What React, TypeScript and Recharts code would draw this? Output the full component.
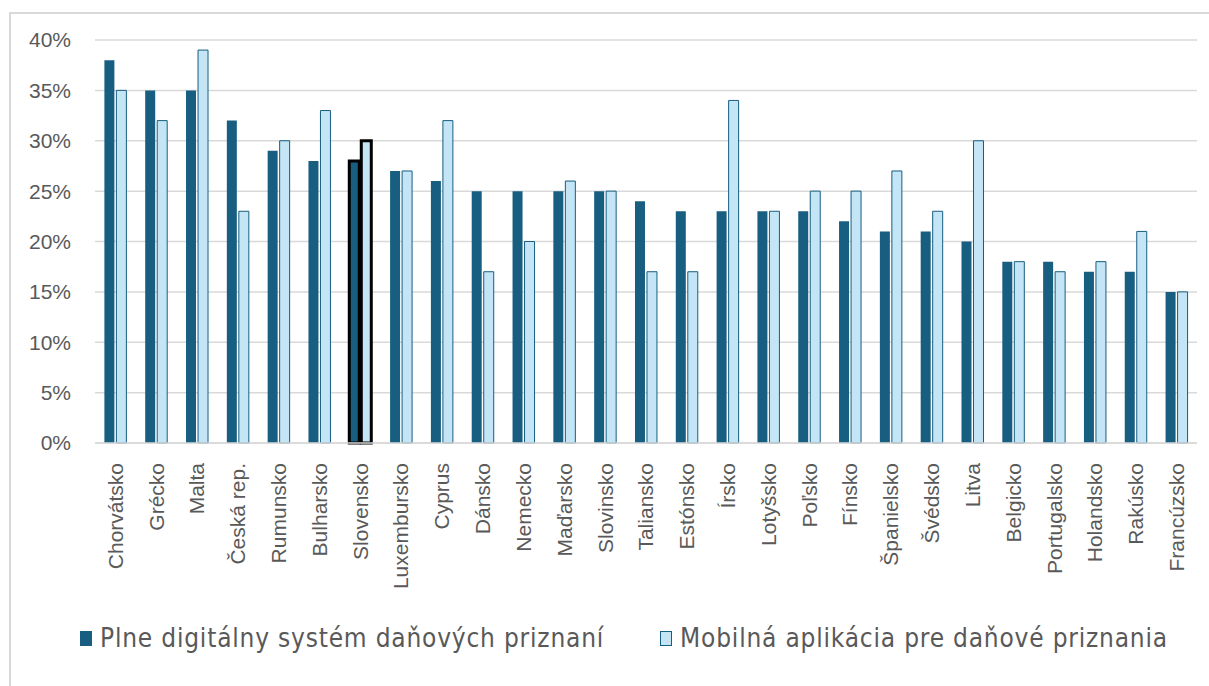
import { Bar, BarChart, CartesianGrid, Cell, Legend, XAxis, YAxis } from "recharts";

const countries = [
    "Chorvátsko", "Grécko", "Malta", "Česká rep.", "Rumunsko", "Bulharsko", "Slovensko", "Luxembursko", "Cyprus",
    "Dánsko", "Nemecko", "Maďarsko", "Slovinsko", "Taliansko", "Estónsko", "Írsko", "Lotyšsko", "Poľsko", "Fínsko",
    "Španielsko", "Švédsko", "Litva", "Belgicko", "Portugalsko", "Holandsko", "Rakúsko", "Francúzsko",
];
const digitalSystem = [38, 35, 35, 32, 29, 28, 28, 27, 26, 25, 25, 25, 25, 24, 23, 23, 23, 23, 22, 21, 21, 20, 18, 18, 17, 17, 15];
const mobileApp = [35, 32, 39, 23, 30, 33, 30, 27, 32, 17, 20, 26, 25, 17, 17, 34, 23, 25, 25, 27, 23, 30, 18, 17, 18, 21, 15];
const yTicks = [0, 5, 10, 15, 20, 25, 30, 35, 40];
const seriesNames = ["Plne digitálny systém daňových priznaní", "Mobilná aplikácia pre daňové priznania"];
const highlighted = "Slovensko";

const data = countries.map((name, i) => ({ name, digital: digitalSystem[i], mobile: mobileApp[i] }));

const DARK = "#175e80";
const LIGHT = "#c3e5f5";
const TEXT = "#595959";
const FONT = "'Liberation Sans', Arial, sans-serif";

const CountryTick = ({ x, y, payload }: any) => (
    <text
        x={0}
        y={0}
        transform={`translate(${x},${y + 12}) rotate(-90)`}
        textAnchor="end"
        dy="0.35em"
        fill={TEXT}
        fontSize={21}
        fontFamily={FONT}
    >
        {payload.value}
    </text>
);

const LegendContent = () => (
    <div
        style={{
            height: 70,
            width: 1209,
            display: "flex",
            alignItems: "flex-start",
            paddingTop: 8,
            paddingLeft: 80,
            boxSizing: "border-box",
            fontFamily: "'Liberation Sans Narrow', 'DejaVu Sans Condensed', sans-serif",
            fontSize: 26,
            letterSpacing: 0.8,
            color: TEXT,
            whiteSpace: "nowrap",
        }}
    >
        {seriesNames.map((label, i) => (
            <div key={label} style={{ display: "flex", alignItems: "center", marginRight: 56, flexShrink: 0 }}>
                <span
                    style={{
                        display: "inline-block",
                        width: 12,
                        height: 15,
                        background: i === 0 ? DARK : LIGHT,
                        border: i === 0 ? "none" : `1.5px solid ${DARK}`,
                        boxSizing: "border-box",
                        marginRight: 8,
                    }}
                />
                <span style={{ lineHeight: "28px" }}>{label}</span>
            </div>
        ))}
    </div>
);

export default function App() {
    return (
        <div style={{ position: "absolute", left: 0, top: 0, width: 1209, height: 686, overflow: "hidden", background: "#fff" }}>
            <div
                style={{
                    position: "absolute",
                    left: 9,
                    top: 12,
                    width: 1220,
                    height: 700,
                    border: "2px solid #d9d9d9",
                    boxSizing: "border-box",
                }}
            />
            <BarChart
                width={1209}
                height={686}
                data={data}
                margin={{ top: 40, right: 12, bottom: 0, left: 0 }}
                barCategoryGap="23%"
                barGap={2}
                style={{ position: "absolute", left: 0, top: 0 }}
            >
                <CartesianGrid vertical={false} stroke="#d9d9d9" strokeWidth={1.5} />
                <XAxis
                    dataKey="name"
                    interval={0}
                    height={173}
                    tickLine={false}
                    axisLine={{ stroke: "#d9d9d9", strokeWidth: 1.5 }}
                    tick={<CountryTick />}
                />
                <YAxis
                    width={95}
                    domain={[0, 40]}
                    ticks={yTicks}
                    tickFormatter={(v) => `${v}%`}
                    axisLine={false}
                    tickLine={false}
                    tickSize={0}
                    tickMargin={24}
                    tick={{ fill: TEXT, fontSize: 21, fontFamily: FONT }}
                />
                <Legend verticalAlign="bottom" wrapperStyle={{ left: 0, width: 1209 }} content={<LegendContent />} />
                <Bar dataKey="digital" name={seriesNames[0]} fill={DARK} isAnimationActive={false}>
                    {data.map((d) => (
                        <Cell
                            key={d.name}
                            stroke={d.name === highlighted ? "#000" : "none"}
                            strokeWidth={d.name === highlighted ? 3 : 0}
                        />
                    ))}
                </Bar>
                <Bar dataKey="mobile" name={seriesNames[1]} fill={LIGHT} isAnimationActive={false}>
                    {data.map((d) => (
                        <Cell
                            key={d.name}
                            stroke={d.name === highlighted ? "#000" : DARK}
                            strokeWidth={d.name === highlighted ? 3 : 1}
                        />
                    ))}
                </Bar>
            </BarChart>
        </div>
    );
}
